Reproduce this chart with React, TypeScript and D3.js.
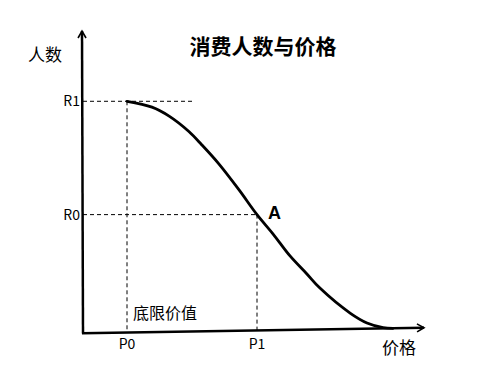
import React from "react";
import * as d3 from "d3";

// data (price, people) in abstract units; people measured above the price axis
const curvePrice = [0, 9.6, 16.2, 23.8, 28.8, 35.4, 43.1, 50, 56.2, 62.7, 69.2, 74.2, 85.8, 92.3, 98.5, 102.3];
const curvePeople = [100, 97.3, 93.3, 86.5, 80.6, 72.2, 60.9, 50.1, 41.6, 32.0, 24.1, 17.9, 6.9, 2.5, 0.4, 0];
const xTickLabels = ["P0", "P1"];
const xTickValues = [0, 50];
const yTickLabels = ["R1", "R0"];
const yTickValues = [100, 50.1];

const W = 478, H = 377;

export default function App() {
  const x = d3.scaleLinear().domain([0, 50]).range([127, 257]);
  const y = d3.scaleLinear().domain([0, 100]).range([333.3, 102]);
  const x0 = 83;
  // price axis drawn with a slight tilt, as in the original
  const tilt = (px: number) => (px - x0) * (5.5 / (425 - x0));
  const axisY = (px: number) => 333.3 - tilt(px);
  const pts: [number, number][] = curvePrice.map((p, i) => {
    const px = x(p);
    return [px, y(curvePeople[i]) - tilt(px)];
  });
  const line = d3.line().curve(d3.curveCatmullRom.alpha(0.5));
  const cjk = "'Noto Sans CJK SC', 'Microsoft YaHei', sans-serif";
  const dash = "4,3";
  const xp0 = x(xTickValues[0]);
  const xp1 = x(xTickValues[1]);
  const yr1 = y(yTickValues[0]) - tilt(xp0);
  const yr0 = y(yTickValues[1]) - tilt(xp1);
  return (
    <svg width={W} height={H} style={{ position: "absolute", left: 0, top: 0 }}>
      <defs>
        <marker id="arr" viewBox="0 0 10 10" refX="8" refY="5" markerWidth="10" markerHeight="10" orient="auto" markerUnits="userSpaceOnUse">
          <path d="M1,1 L8,5 L1,9" fill="none" stroke="#000" strokeWidth={1.6} />
        </marker>
      </defs>
      <rect width={W} height={H} fill="#fff" />
      {/* dashed guides */}
      <line x1={x0} y1={yr1} x2={193} y2={yr1} stroke="#000" strokeDasharray={dash} strokeWidth={1} />
      <line x1={xp0} y1={yr1} x2={xp0} y2={axisY(xp0)} stroke="#000" strokeDasharray={dash} strokeWidth={1} />
      <line x1={x0} y1={yr0} x2={xp1} y2={yr0} stroke="#000" strokeDasharray={dash} strokeWidth={1} />
      <line x1={xp1} y1={yr0} x2={xp1} y2={axisY(xp1)} stroke="#000" strokeDasharray={dash} strokeWidth={1} />
      {/* axes */}
      <line x1={x0} y1={333.5} x2={82} y2={31} stroke="#000" strokeWidth={2.5} markerEnd="url(#arr)" />
      <line x1={x0 - 1} y1={333.3} x2={424} y2={327.8} stroke="#000" strokeWidth={2.5} markerEnd="url(#arr)" />
      {/* curve */}
      <path d={line(pts) || ""} fill="none" stroke="#000" strokeWidth={2.8} strokeLinecap="round" />
      {/* texts */}
      <text x={263} y={54} textAnchor="middle" fontFamily={cjk} fontWeight="bold" fontSize={21}>消费人数与价格</text>
      <text x={45} y={61} textAnchor="middle" fontFamily={cjk} fontSize={17}>人数</text>
      {yTickLabels.map((t, i) => (
        <text key={t} x={80} y={(i === 0 ? yr1 : yr0) + 5} textAnchor="end" fontFamily={cjk} fontSize={14}>{t}</text>
      ))}
      {xTickLabels.map((t, i) => (
        <text key={t} x={x(xTickValues[i])} y={349} textAnchor="middle" fontFamily={cjk} fontSize={14}>{t}</text>
      ))}
      <text x={268} y={219} fontFamily="'Liberation Sans', Arial, sans-serif" fontWeight="bold" fontSize={18}>A</text>
      <text x={133} y={319} fontFamily={cjk} fontSize={16}>底限价值</text>
      <text x={382} y={354} fontFamily={cjk} fontSize={17}>价格</text>
    </svg>
  );
}
